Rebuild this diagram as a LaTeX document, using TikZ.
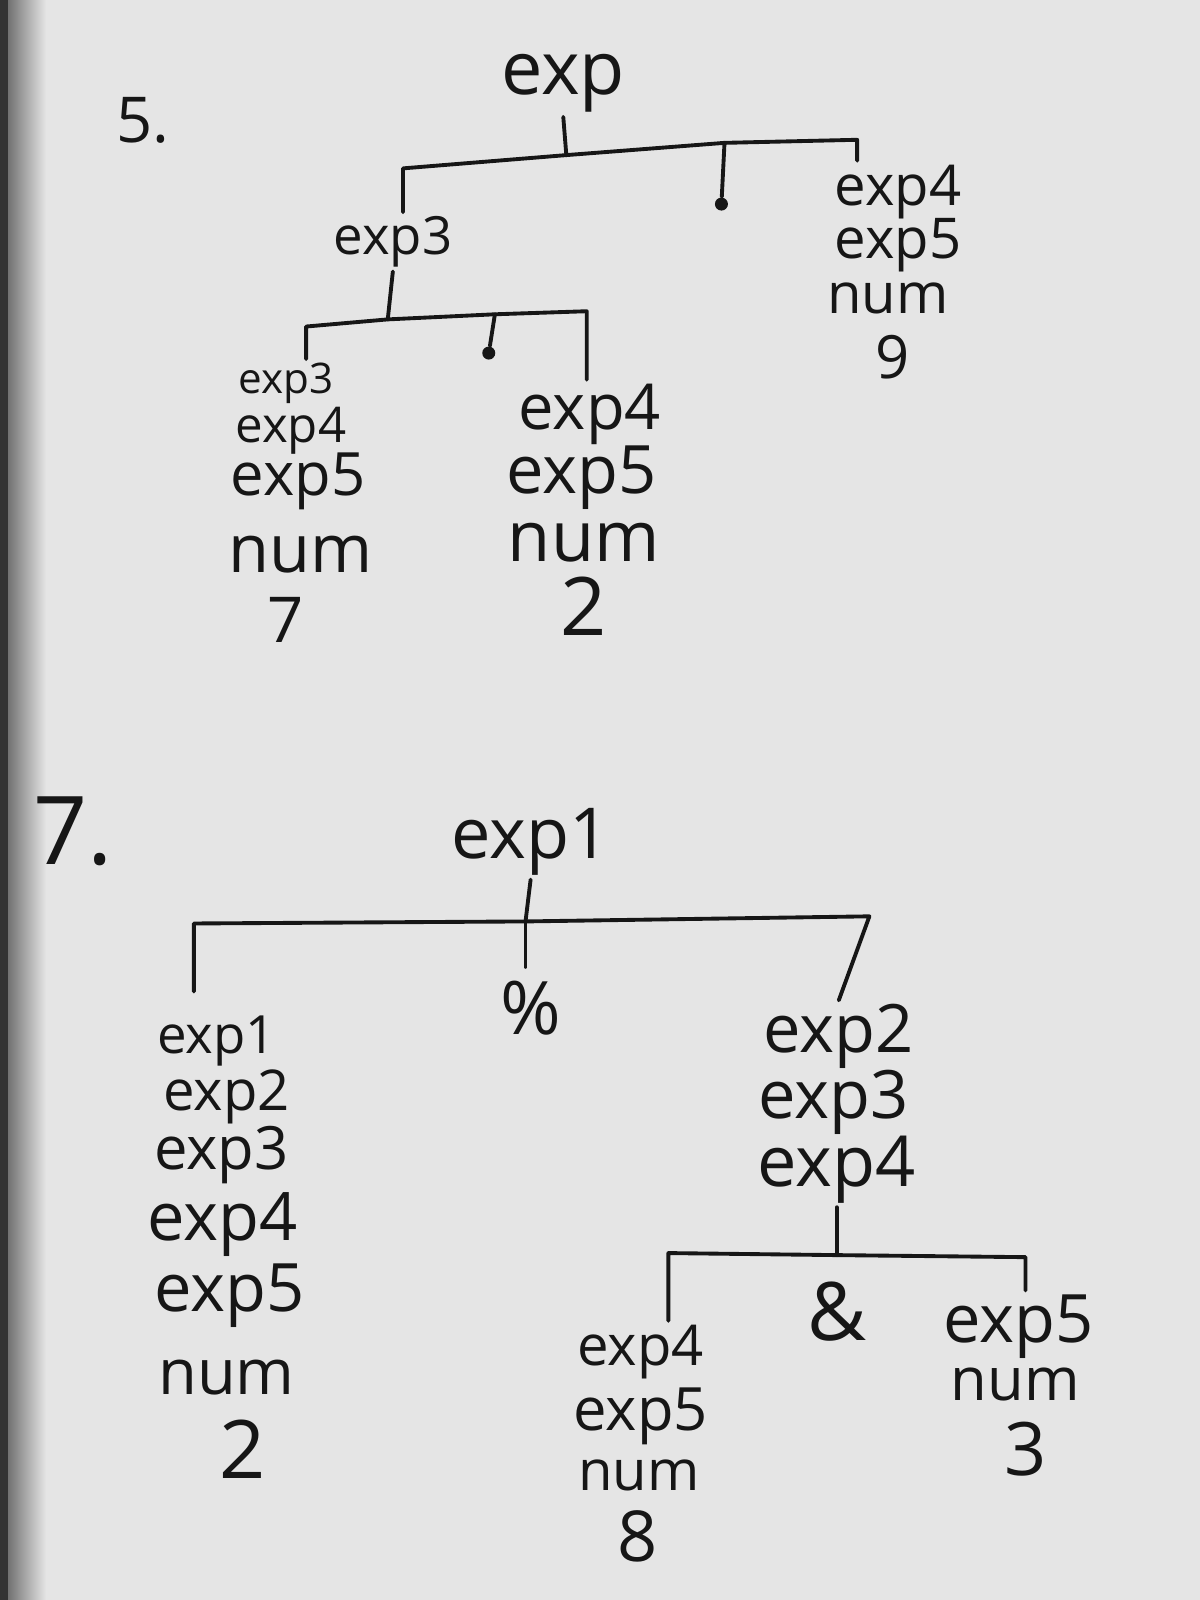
\documentclass[tikz,border=0pt]{standalone}
\usepackage{fontspec}
\setmainfont{Open Sans}
\usepackage{tikz}
\definecolor{paper}{RGB}{229,229,229}
\definecolor{ink}{RGB}{22,22,22}
\tikzset{
  word/.style={font=\fontsize{#1}{#1}\selectfont, text=ink, inner sep=1pt},
  branch/.style={draw=ink, line width=1.1pt, line cap=round, line join=round},
  dotmark/.style={circle, fill=ink, inner sep=0pt, minimum size=0.13cm}
}

\begin{document}
\begin{tikzpicture}[x=1.0204cm, y=-1.0204cm]
    \useasboundingbox (0, 0) rectangle (11.76, 15.68);
    \fill[paper] (0, 0) rectangle (11.76, 15.68);
    \fill[black!80] (0, 0) rectangle (0.08, 15.68);
    \shade[left color=black!55, right color=paper] (0.08, 0) rectangle (0.45, 15.68);

    % problem 5
    \node[word=18] (num5) at (1.40, 1.18) {5.};
    \node[word=21] (root) at (5.52, 0.82) {exp};
    \node[word=15] (lhs) at (3.85, 2.37) {exp3};

    \node[word=16] (ra) at (8.80, 1.88) {exp4};
    \node[word=16] (rb) at (8.80, 2.40) {exp5};
    \node[word=16] (rc) at (8.70, 2.92) {num};
    \node[word=17] (rd) at (8.75, 3.50) {9};

    \node[word=12] (la) at (2.80, 3.76) {exp3};
    \node[word=14] (lb) at (2.85, 4.22) {exp4};
    \node[word=17] (lc) at (2.92, 4.72) {exp5};
    \node[word=19] (ld) at (2.95, 5.44) {num};
    \node[word=18] (le) at (2.80, 6.08) {7};

    \node[word=18] (ma) at (5.78, 4.06) {exp4};
    \node[word=19] (mb) at (5.70, 4.68) {exp5};
    \node[word=20] (mc) at (5.72, 5.32) {num};
    \node[word=23] (md) at (5.72, 5.94) {2};

    \node[dotmark] (dot1) at (7.07, 2.00) {};
    \node[dotmark] (dot2) at (4.79, 3.46) {};

    \coordinate (t1l) at (3.95, 1.65);
    \coordinate (t1m) at (5.55, 1.52);
    \coordinate (t1d) at (7.10, 1.40);
    \coordinate (t1r) at (8.40, 1.37);
    \draw[branch] (root.south) -- (t1m);
    \draw[branch] (t1l |- lhs.north) -- (t1l) -- (t1m) -- (t1d) -- (t1r) -- (t1r |- ra.north);
    \draw[branch] (t1d) -- (dot1);

    \coordinate (t2l) at (3.00, 3.20);
    \coordinate (t2m) at (3.80, 3.13);
    \coordinate (t2d) at (4.85, 3.08);
    \coordinate (t2r) at (5.75, 3.05);
    \draw[branch] (lhs.south) -- (t2m);
    \draw[branch] (t2l |- la.north) -- (t2l) -- (t2m) -- (t2d) -- (t2r) -- (t2r |- ma.north);
    \draw[branch] (t2d) -- (dot2);

    % problem 7
    \node[word=27] (num7) at (0.72, 8.15) {7.};
    \node[word=20] (top) at (5.20, 8.25) {exp1};
    \node[word=21] (pct) at (5.20, 9.88) {\%};

    \node[word=15] (ca) at (2.12, 10.20) {exp1};
    \node[word=16] (cb) at (2.22, 10.75) {exp2};
    \node[word=17] (cc) at (2.17, 11.32) {exp3};
    \node[word=19] (cd) at (2.18, 12.00) {exp4};
    \node[word=19] (ce) at (2.25, 12.70) {exp5};
    \node[word=18] (cf) at (2.22, 13.50) {num};
    \node[word=23] (cg) at (2.38, 14.20) {2};

    \node[word=19] (da) at (8.22, 10.16) {exp2};
    \node[word=19] (db) at (8.17, 10.80) {exp3};
    \node[word=20] (dc) at (8.20, 11.46) {exp4};
    \node[word=23] (amp) at (8.20, 12.85) {\&};

    \node[word=16] (ea) at (6.28, 13.25) {exp4};
    \node[word=17] (eb) at (6.28, 13.88) {exp5};
    \node[word=16] (ec) at (6.26, 14.46) {num};
    \node[word=20] (ed) at (6.25, 15.06) {8};

    \node[word=19] (fa) at (9.98, 13.00) {exp5};
    \node[word=17] (fb) at (9.95, 13.57) {num};
    \node[word=21] (fc) at (10.05, 14.20) {3};

    \coordinate (b1l) at (1.90, 9.05);
    \coordinate (b1m) at (5.15, 9.03);
    \coordinate (b1r) at (8.52, 8.98);
    \draw[branch] (top.south) -- (b1m);
    \draw[branch, shorten <=0.1cm] (b1m |- pct.north) -- (b1m);
    \draw[branch, shorten <=0.2cm] (b1l |- ca.north) -- (b1l) -- (b1m) -- (b1r) -- (da.north);

    \coordinate (b2l) at (6.55, 12.28);
    \coordinate (b2m) at (8.20, 12.30);
    \coordinate (b2r) at (10.05, 12.32);
    \draw[branch] (dc.south) -- (b2m);
    \draw[branch] (b2l |- ea.north) -- (b2l) -- (b2m) -- (b2r) -- (b2r |- fa.north);
\end{tikzpicture}
\end{document}
